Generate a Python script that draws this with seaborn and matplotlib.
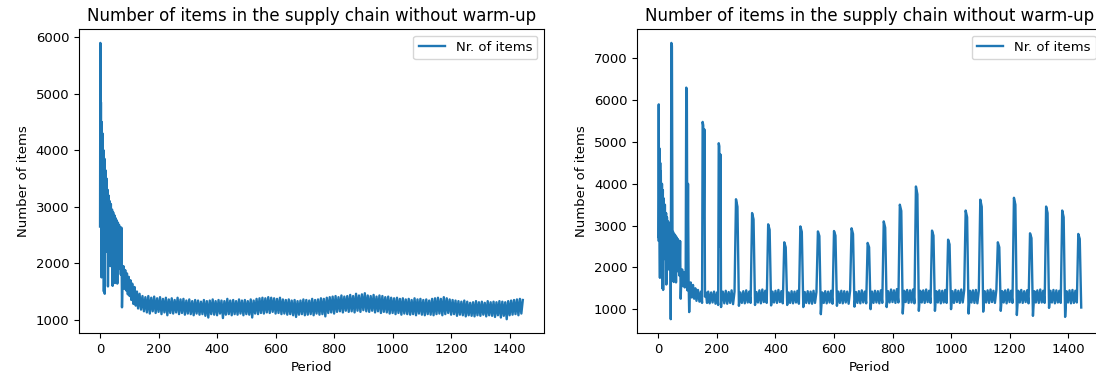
import numpy as np
import seaborn as sns
import matplotlib.pyplot as plt

# ---- left run: stock only -------------------------------------------------
# first 150 periods, read point by point
left_head_period = [0, 1, 2, 3, 4, 5, 6, 7, 8, 10, 12, 13, 15, 16, 18, 20, 22, 24,
                    26, 27, 29, 31, 33, 35, 37, 39, 41, 43, 45, 47, 49, 51, 53, 55,
                    57, 59, 61, 63, 65, 67, 69, 71, 73, 75, 77, 80, 83, 86, 89, 92,
                    95, 98, 101, 104, 107, 110, 114, 118, 122, 126, 130, 135, 140,
                    145, 150]
left_head_items = [2650, 5900, 2700, 4850, 2650, 1750, 4500, 2650, 4300, 2600, 4000,
                   1500, 3850, 1460, 3650, 2200, 3500, 2300, 3300, 1590, 3200, 2000,
                   3100, 1950, 3050, 2000, 2950, 1600, 2900, 1900, 2850, 1650, 2800,
                   1900, 2760, 1640, 2720, 1950, 2680, 1900, 2640, 1800, 2630, 1220,
                   1700, 1950, 1550, 1880, 1520, 1820, 1450, 1760, 1420, 1700, 1350,
                   1640, 1280, 1580, 1250, 1500, 1200, 1460, 1180, 1420, 1150]
# from period 155 on, one reading every 5 periods
left_tail_start = 155
left_tail_items = [
    1400, 1130, 1420, 1110, 1390, 1150, 1410, 1120, 1380, 1140,
    1400, 1100, 1370, 1130, 1390, 1080, 1360, 1120, 1380, 1110,
    1350, 1130, 1390, 1100, 1360, 1120, 1370, 1090, 1340, 1110,
    1360, 1100, 1330, 1080, 1350, 1110, 1340, 1090, 1320, 1100,
    1350, 1070, 1330, 1040, 1340, 1100, 1360, 1090, 1330, 1080,
    1350, 1110, 1340, 1030, 1330, 1090, 1370, 1100, 1340, 1080,
    1350, 1100, 1330, 1090, 1360, 1110, 1340, 1080, 1350, 1100,
    1330, 1090, 1360, 1040, 1340, 1110, 1370, 1100, 1380, 1120,
    1390, 1110, 1380, 1130, 1400, 1120, 1390, 1140, 1380, 1110,
    1370, 1120, 1390, 1100, 1360, 1110, 1350, 1090, 1360, 1100,
    1340, 1080, 1350, 1050, 1330, 1090, 1340, 1100, 1360, 1080,
    1350, 1090, 1340, 1100, 1370, 1080, 1350, 1110, 1360, 1090,
    1380, 1100, 1370, 1060, 1390, 1120, 1400, 1130, 1410, 1110,
    1420, 1140, 1400, 1150, 1430, 1130, 1410, 1160, 1420, 1140,
    1440, 1150, 1420, 1130, 1460, 1160, 1430, 1140, 1450, 1170,
    1470, 1150, 1430, 1140, 1420, 1160, 1440, 1130, 1410, 1150,
    1430, 1120, 1420, 1140, 1400, 1130, 1410, 1110, 1390, 1120,
    1380, 1100, 1390, 1120, 1370, 1090, 1380, 1110, 1360, 1100,
    1370, 1090, 1350, 1100, 1380, 1080, 1360, 1110, 1370, 1090,
    1350, 1080, 1360, 1100, 1340, 1090, 1370, 1080, 1380, 1100,
    1390, 1110, 1370, 1080, 1400, 1100, 1380, 1120, 1360, 1090,
    1350, 1100, 1340, 1070, 1330, 1090, 1320, 1080, 1340, 1060,
    1320, 1080, 1300, 1070, 1310, 1060, 1330, 1080, 1310, 1070,
    1320, 1090, 1300, 1060, 1330, 1080, 1310, 1070, 1320, 1050,
    1310, 1080, 1330, 1040, 1320, 1070, 1310, 1010, 1330, 1080,
    1340, 1090, 1350, 1100, 1360, 1080, 1370, 1110, 1350,
]

# ---- right run: with periodic replenishment spikes -------------------------
right_head_period = [0, 1, 2, 3, 4, 5, 6, 7, 8, 10, 12, 13, 15, 16, 18, 20, 22, 24,
                     26, 27, 29, 31, 33, 35, 37, 39, 41, 42, 44, 46, 48, 50, 52, 54,
                     56, 58, 60, 62, 64, 66, 68, 70, 72, 74, 76, 78, 81, 84, 87, 90,
                     93, 95, 97, 99, 101, 103, 105, 107, 110, 114, 118, 122, 126,
                     130, 135, 140, 145, 149, 151, 153, 155, 157, 159, 162, 166, 170,
                     175, 180, 185, 190, 195, 200, 204, 206, 208, 210, 212, 214, 216]
right_head_items = [2650, 5900, 2700, 4850, 2650, 1750, 4500, 2650, 4300, 2600, 4000,
                    1500, 3850, 1460, 3650, 2200, 3500, 2300, 3300, 1590, 3200, 2000,
                    3100, 1950, 3050, 2000, 2950, 760, 7370, 7300, 2600, 2850, 1650,
                    2800, 1900, 2760, 1640, 2720, 1950, 2680, 1900, 2640, 1800, 2630,
                    1250, 1700, 1950, 1550, 1880, 1520, 1820, 6300, 6250, 1450, 4000,
                    1700, 930, 1400, 1640, 1280, 1580, 1250, 1500, 1200, 1460, 1180,
                    1420, 1150, 5480, 5400, 3200, 5300, 1300, 1400, 1150, 1420, 1140,
                    1400, 1160, 1420, 1130, 1400, 1100, 4970, 4900, 2500, 4700, 1050,
                    1380]
right_tail_start = 220
right_tail_items = [
    1420, 1140, 1440, 1130, 1410, 1150, 1450, 1120, 1420, 3630,
    3450, 1080, 1400, 1150, 1430, 1140, 1450, 1160, 1420, 1150,
    3300, 3150, 1100, 1410, 1160, 1450, 1140, 1470, 1170, 1440,
    1150, 3030, 2900, 1090, 1420, 1160, 1440, 1150, 1460, 1170,
    1430, 1140, 2600, 2480, 1100, 1400, 1150, 1430, 1140, 1420,
    1160, 1440, 1130, 2980, 2850, 1050, 1410, 1150, 1430, 1140,
    1420, 1130, 1440, 1150, 1410, 2860, 2750, 880, 1400, 1150,
    1430, 1140, 1420, 1160, 1440, 1130, 2870, 2760, 1080, 1420,
    1150, 1440, 1140, 1430, 1160, 1420, 1130, 1440, 2935, 2800,
    1060, 1410, 1150, 1430, 1140, 1450, 1160, 1420, 1140, 2585,
    2480, 1000, 1420, 1150, 1440, 1160, 1430, 1140, 1450, 1150,
    3100, 2950, 1050, 1430, 1160, 1470, 1170, 1450, 1150, 1480,
    1160, 3500, 3350, 895, 1440, 1170, 1460, 1150, 1450, 1160,
    1470, 1140, 3935, 3750, 960, 1440, 1160, 1450, 1150, 1470,
    1170, 1440, 1150, 2880, 2760, 960, 1430, 1160, 1450, 1140,
    1440, 1160, 1460, 1150, 2663, 2550, 1000, 1430, 1150, 1460,
    1170, 1440, 1150, 1470, 1160, 1450, 3360, 3200, 895, 1440,
    1160, 1450, 1150, 1460, 1140, 1440, 3620, 3450, 940, 1430,
    1160, 1450, 1150, 1470, 1170, 1440, 1150, 1460, 2600, 2480,
    960, 1430, 1160, 1450, 1140, 1470, 1170, 1440, 1150, 3665,
    3500, 860, 1440, 1160, 1460, 1150, 1430, 1170, 1450, 1140,
    2815, 2700, 840, 1430, 1160, 1450, 1150, 1470, 1160, 1440,
    1150, 3455, 3300, 1030, 1440, 1160, 1460, 1140, 1450, 1160,
    1440, 1150, 3360, 3200, 815, 1430, 1160, 1450, 1140, 1460,
    1150, 1440, 1160, 2800, 2680, 1040,
]

title = "Number of items in the supply chain without warm-up"
blue = "#1f77b4"


def full_series(head_period, head_items, tail_start, tail_items):
    tail_period = tail_start + 5 * np.arange(len(tail_items))
    period = np.concatenate([head_period, tail_period])
    items = np.concatenate([head_items, tail_items])
    return period, items


plt.rcParams["font.family"] = "DejaVu Sans"
# keep every zigzag vertex so the noisy band renders solid
plt.rcParams["path.simplify"] = False
fig = plt.figure(figsize=(10.96, 3.78), dpi=100)
ax_left = fig.add_axes([0.072, 0.119, 0.4243, 0.804])
ax_right = fig.add_axes([0.5815, 0.119, 0.4243, 0.804])

runs = [
    (ax_left, full_series(left_head_period, left_head_items, left_tail_start, left_tail_items)),
    (ax_right, full_series(right_head_period, right_head_items, right_tail_start, right_tail_items)),
]

for axis, (period, items) in runs:
    sns.lineplot(x=period, y=items, ax=axis, color=blue, linewidth=1.7,
                 estimator=None, sort=False, label="Nr. of items")
    axis.set_title(title, fontsize=12)
    axis.set_xlabel("Period", fontsize=9.5)
    axis.set_ylabel("Number of items", fontsize=9.5)
    axis.tick_params(labelsize=9.5)
    axis.set_xticks([0, 200, 400, 600, 800, 1000, 1200, 1400])
    axis.legend(loc="upper right", fontsize=9.5)

plt.savefig("out.png", dpi=100)
